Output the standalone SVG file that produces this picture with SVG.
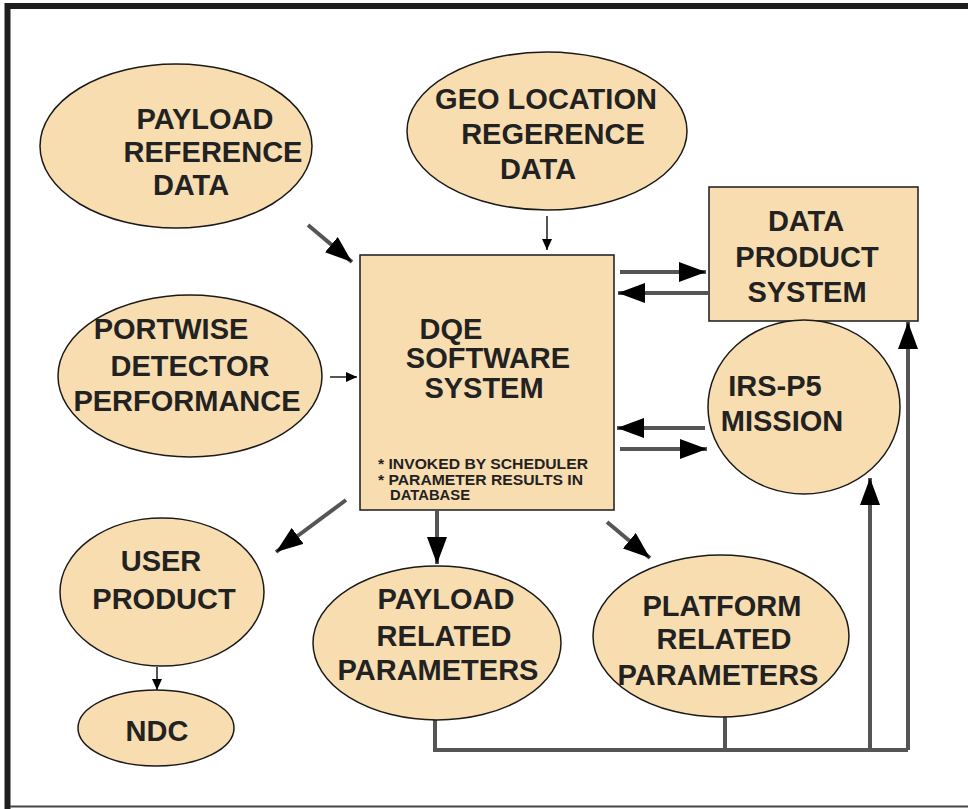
<svg xmlns="http://www.w3.org/2000/svg" width="968" height="809" viewBox="0 0 968 809">
<style>
.n{fill:#F8DDB0;stroke:#1a1a1a;stroke-width:1.5}
.t{font-family:"Liberation Sans",Arial,sans-serif;font-weight:bold;font-size:29px;fill:#222;text-anchor:middle}
.s{font-family:"Liberation Sans",Arial,sans-serif;font-weight:bold;font-size:14px;fill:#222}
.c{fill:none;stroke:#555;stroke-width:4}
.ct{fill:none;stroke:#555;stroke-width:2}
</style>
<defs>
<marker id="big" markerUnits="userSpaceOnUse" markerWidth="28" markerHeight="20" refX="27" refY="10" orient="auto"><path d="M0,0 L27,10 L0,20 z" fill="#000"/></marker>
<marker id="sm" markerUnits="userSpaceOnUse" markerWidth="12" markerHeight="10" refX="11" refY="5" orient="auto"><path d="M0,0 L11,5 L0,10 z" fill="#000"/></marker>
</defs>
<rect width="968" height="809" fill="#fff"/>
<path d="M7.5,809 V6 H968" fill="none" stroke="#1e1e1e" stroke-width="6"/>
<line x1="10" y1="806.5" x2="968" y2="806.5" stroke="#444" stroke-width="2"/>

<g id="connectors">
<line class="c" x1="308" y1="225" x2="352" y2="262" marker-end="url(#big)"/>
<line class="ct" x1="547" y1="216" x2="547" y2="250" marker-end="url(#sm)"/>
<line class="ct" x1="330" y1="377" x2="357" y2="377" marker-end="url(#sm)"/>
<line class="c" x1="620" y1="272" x2="706" y2="272" marker-end="url(#big)"/>
<line class="c" x1="708" y1="293" x2="618" y2="293" marker-end="url(#big)"/>
<line class="c" x1="705" y1="428" x2="617" y2="428" marker-end="url(#big)"/>
<line class="c" x1="620" y1="449" x2="707" y2="449" marker-end="url(#big)"/>
<line class="c" x1="346" y1="500" x2="276" y2="552" marker-end="url(#big)"/>
<line class="c" x1="437" y1="511" x2="437" y2="564" marker-end="url(#big)"/>
<line class="c" x1="607" y1="522" x2="650" y2="558" marker-end="url(#big)"/>
<line class="ct" x1="157" y1="667" x2="157" y2="690" marker-end="url(#sm)"/>
<polyline class="c" points="435,712 435,750 908,750"/>
<line class="c" x1="725" y1="716" x2="725" y2="750"/>
<line class="c" x1="870" y1="750" x2="870" y2="478" marker-end="url(#big)"/>
<line class="c" x1="908" y1="750" x2="908" y2="322" marker-end="url(#big)"/>
</g>

<g id="payload-ref">
<ellipse class="n" cx="176" cy="146" rx="136" ry="82"/>
<text class="t" x="205" y="129">PAYLOAD</text>
<text class="t" x="213" y="162">REFERENCE</text>
<text class="t" x="191" y="195">DATA</text>
</g>
<g id="geo">
<ellipse class="n" cx="547" cy="131" rx="140" ry="79"/>
<text class="t" x="546" y="109">GEO LOCATION</text>
<text class="t" x="553" y="144">REGERENCE</text>
<text class="t" x="538" y="179">DATA</text>
</g>
<g id="portwise">
<ellipse class="n" cx="190" cy="376" rx="132" ry="81"/>
<text class="t" x="171" y="339">PORTWISE</text>
<text class="t" x="190" y="376">DETECTOR</text>
<text class="t" x="187" y="411">PERFORMANCE</text>
</g>
<g id="dqe">
<rect class="n" x="360" y="255" width="254" height="255"/>
<text class="t" x="451" y="339">DQE</text>
<text class="t" x="488" y="368">SOFTWARE</text>
<text class="t" x="484" y="398">SYSTEM</text>
<text class="s" x="378" y="469" textLength="210" lengthAdjust="spacingAndGlyphs">* INVOKED BY SCHEDULER</text>
<text class="s" x="378" y="485" textLength="205" lengthAdjust="spacingAndGlyphs">* PARAMETER RESULTS IN</text>
<text class="s" x="390" y="500" textLength="80" lengthAdjust="spacingAndGlyphs">DATABASE</text>
</g>
<g id="data-product">
<rect class="n" x="709" y="187" width="209" height="134"/>
<text class="t" x="806" y="231">DATA</text>
<text class="t" x="807" y="267">PRODUCT</text>
<text class="t" x="807" y="302">SYSTEM</text>
</g>
<g id="irs">
<ellipse class="n" cx="804" cy="407" rx="96" ry="87"/>
<text class="t" x="775" y="396">IRS-P5</text>
<text class="t" x="782" y="431">MISSION</text>
</g>
<g id="user-product">
<ellipse class="n" cx="162" cy="592" rx="102" ry="74"/>
<text class="t" x="161" y="571">USER</text>
<text class="t" x="164" y="609">PRODUCT</text>
</g>
<g id="ndc">
<ellipse class="n" cx="156" cy="728" rx="78" ry="38"/>
<text class="t" x="157" y="741">NDC</text>
</g>
<g id="payload-params">
<ellipse class="n" cx="437" cy="643" rx="124" ry="77"/>
<text class="t" x="446" y="609">PAYLOAD</text>
<text class="t" x="444" y="646">RELATED</text>
<text class="t" x="438" y="680">PARAMETERS</text>
</g>
<g id="platform-params">
<ellipse class="n" cx="721" cy="636" rx="128" ry="81"/>
<text class="t" x="722" y="616">PLATFORM</text>
<text class="t" x="724" y="649">RELATED</text>
<text class="t" x="718" y="685">PARAMETERS</text>
</g>
</svg>
